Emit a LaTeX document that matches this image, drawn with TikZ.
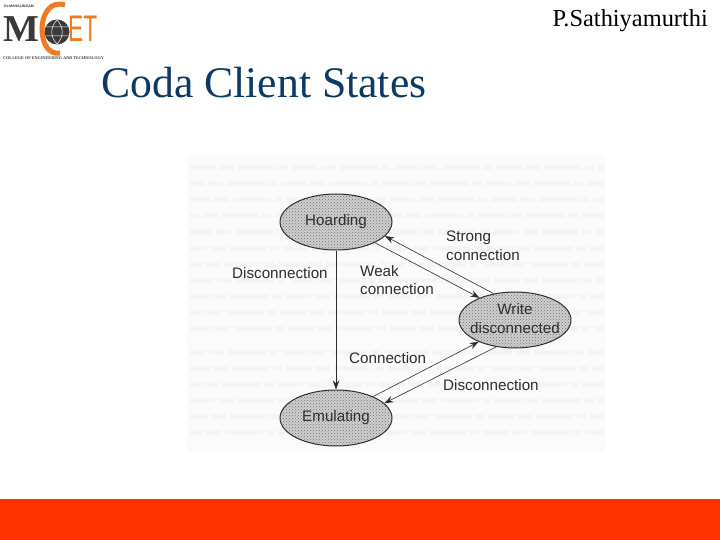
\documentclass[tikz,border=0pt]{standalone}
\usepackage{fontspec}
\setmainfont{Liberation Serif}
\newfontfamily\figfont{Liberation Sans}
\usetikzlibrary{arrows.meta,patterns,shapes.geometric}
\definecolor{titleblue}{HTML}{0B3A66}
\definecolor{barred}{HTML}{FF3300}
\definecolor{logoorange}{HTML}{EE7A22}
\definecolor{logodark}{HTML}{3A3A3A}
\definecolor{inkgray}{HTML}{2E2E2E}
\definecolor{statefill}{HTML}{CFCFCF}
\tikzset{
  statenode/.style={ellipse,draw=inkgray,line width=1pt,preaction={fill=statefill},pattern=crosshatch dots,pattern color=black!55,minimum width=112pt,minimum height=56pt,inner sep=-12pt,align=center,font=\figfont\fontsize{15.2}{19}\selectfont,text=inkgray},
  flow/.style={draw=inkgray,line width=0.6pt,-{Stealth[length=9pt,width=6.5pt]}},
  flowlabel/.style={font=\figfont\fontsize{15.2}{18.5}\selectfont,text=inkgray,align=left,inner sep=0pt},
  ghostline/.style={draw=black!4,line width=5pt,dash pattern=on 26pt off 3pt on 15pt off 4pt on 38pt off 3pt on 9pt off 4pt}
}
\begin{document}
\begin{tikzpicture}[x=1pt,y=-1pt]
\useasboundingbox (0,0) rectangle (720,540);
\fill[white] (0,0) rectangle (720,540);
% scanned page behind the figure
\fill[black!1.5] (187,155) rectangle (605,452);
\foreach \r/\o in {168/0,184/11,200/5,216/17,232/3,248/9,264/14,280/2,296/7,312/12,328/4,352/10,368/6,384/15,400/1,416/8,432/13}{
  \draw[ghostline,dash phase=\o pt] (190,\r) -- (604,\r);
}
% bottom bar
\fill[barred] (0,499) rectangle (720,540);
% heading
\node[anchor=base east,inner sep=0pt,font=\fontsize{24.4}{26}\selectfont] (author) at (708,27) {P.Sathiyamurthi};
\node[anchor=base west,inner sep=0pt,font=\fontsize{43.7}{48}\selectfont,text=titleblue] (title) at (101,98) {Coda Client States};
% logo
\node[anchor=base west,inner sep=0pt,font=\figfont\bfseries\fontsize{3.6}{4}\selectfont,text=logodark] (logotop) at (4,7.5) {Dr.MAHALINGAM};
\node[anchor=base west,inner sep=0pt,font=\bfseries\fontsize{38}{38}\selectfont,text=logodark] (logom) at (3,42) {M};
\draw[logoorange,line width=5pt] (65,5) .. controls (49,0) and (42,16) .. (42,29) .. controls (42,44) and (49,55) .. (60,53);
\fill[logodark] (57,32) circle (12.5);
\draw[white,line width=0.5pt] (57,20) .. controls (50,27) and (50,37) .. (57,44) (57,20) .. controls (64,27) and (64,37) .. (57,44) (46,27) -- (68,27) (45,36) -- (69,36);
\node[anchor=base west,inner sep=0pt,font=\figfont\fontsize{37}{37}\selectfont,text=logoorange,xscale=.62] (logoet) at (68,42) {ET};
\node[anchor=base west,inner sep=0pt,font=\bfseries\fontsize{4.2}{5}\selectfont,text=logodark] (logobot) at (3,60) {COLLEGE OF ENGINEERING AND TECHNOLOGY};
% states
\node[statenode] (h) at (336,222) {\raisebox{-1pt}{Hoarding}};
\node[statenode] (w) at (515,320) {\raisebox{2.5pt}{Write}\\\raisebox{2.5pt}{disconnected}};
\node[statenode] (e) at (336,418) {\raisebox{-2pt}{Emulating}};
% connectors
\draw[flow] (h.south) -- (e.north);
\draw[flow] (w.129) -- (h.-16);
\draw[flow] (h.-28) -- (w.148);
\draw[flow] (e.30) -- (w.211);
\draw[flow] (w.235) -- (e.17);
% labels
\node[flowlabel,anchor=west] (l1) at (232,273) {Disconnection};
\node[flowlabel,anchor=west] (l2) at (446,246) {Strong\\connection};
\node[flowlabel,anchor=west] (l3) at (360,280) {Weak\\connection};
\node[flowlabel,anchor=west] (l4) at (349,358) {Connection};
\node[flowlabel,anchor=west] (l5) at (443,385) {Disconnection};
\end{tikzpicture}
\end{document}
